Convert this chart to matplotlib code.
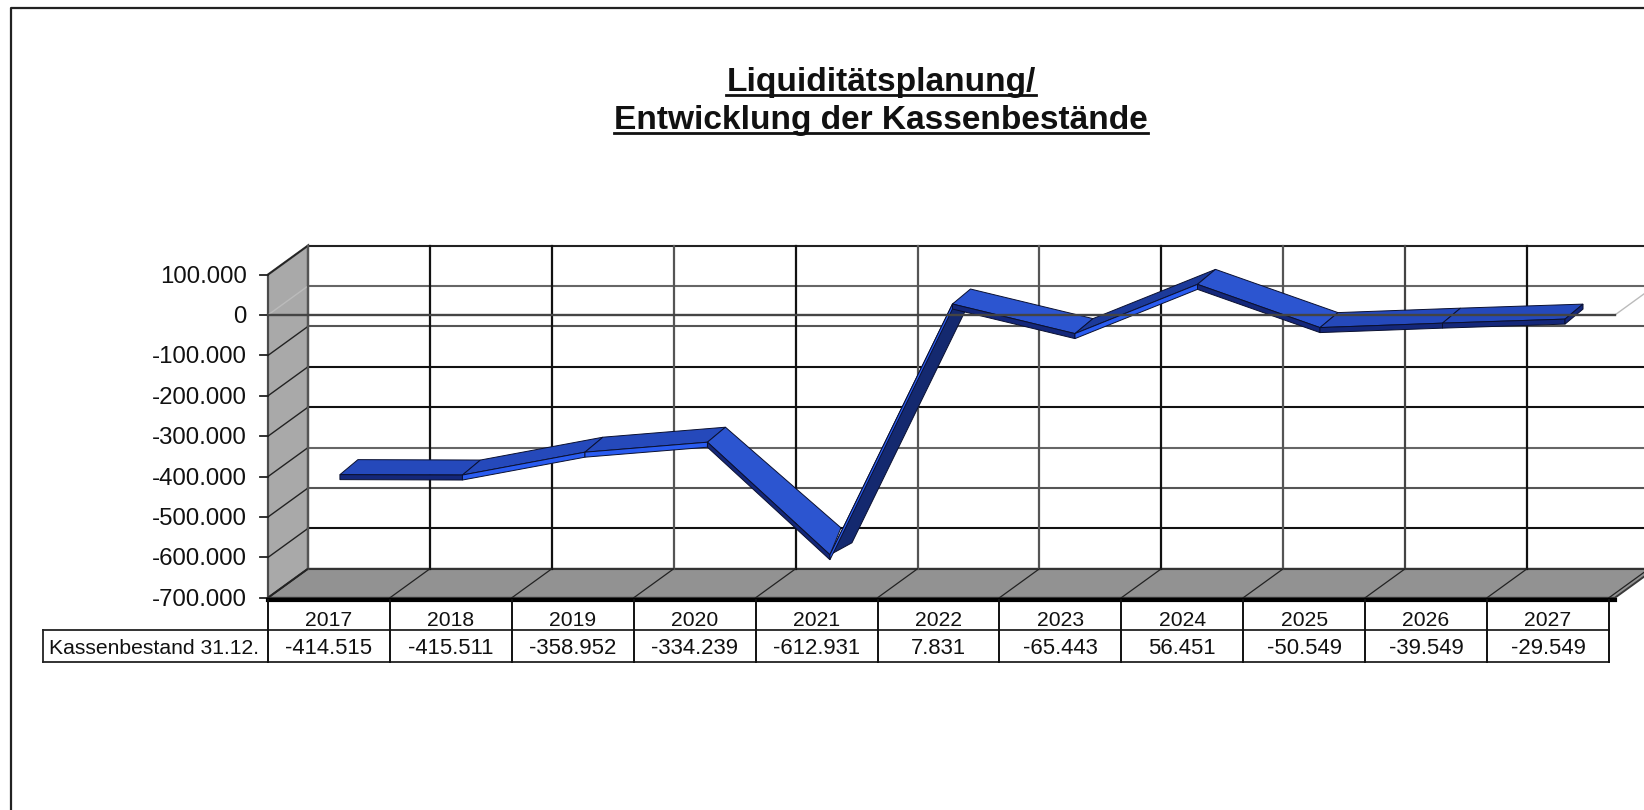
import matplotlib
matplotlib.use('Agg')
from matplotlib import pyplot as plt
from matplotlib.patches import Polygon
import numpy as np

plt.rcParams['font.family'] = ['Liberation Sans', 'DejaVu Sans']

years = [2017, 2018, 2019, 2020, 2021, 2022, 2023, 2024, 2025, 2026, 2027]
kassenbestand = [-414515, -415511, -358952, -334239, -612931, 7831, -65443, 56451, -50549, -39549, -29549]
yticks = [100000, 0, -100000, -200000, -300000, -400000, -500000, -600000, -700000]
title_lines = ['Liquiditätsplanung/', 'Entwicklung der Kassenbestände']
row_label = 'Kassenbestand 31.12.'

W, H = 1644, 810
cat_px = 121.9      # pixels per category
val_px = 40.4 / 100000  # pixels per unit of value
left_px = 268       # front left corner of the plot
zero_px = 315       # front zero line

depth_x = 40 / cat_px    # wall depth, in data units
depth_y = 29 / val_px
rib_dx = 18 / cat_px     # ribbon width
rib_dy = 15 / val_px
rib_thick = 5 / val_px

grid_cols = ['#222222', '#666666', '#555555', '#111111', '#111111', '#666666', '#555555', '#111111', '#333333']
vert_cols = ['#555555', '#111111', '#111111', '#555555', '#111111', '#555555', '#555555', '#111111', '#555555', '#444444', '#111111']


def fmt(v):
    return f'{v:,}'.replace(',', '.')


fig = plt.figure(figsize=(W / 100, H / 100), dpi=100)

# page axes in pixels, for frame and title
pg = fig.add_axes([0, 0, 1, 1], zorder=3)
pg.set_xlim(0, W)
pg.set_ylim(H, 0)
pg.axis('off')
pg.patch.set_alpha(0)

# chart axes: x = category number, y = value, fills the whole figure
ax = fig.add_axes([0, 0, 1, 1], zorder=1)
ax.set_xlim((0 - left_px) / cat_px - 0.5, (W - left_px) / cat_px - 0.5)
ax.set_ylim((zero_px - H) / val_px, zero_px / val_px)
ax.axis('off')

n = len(years)
x_l = -0.5
x_r = n - 0.5
x_fl = x_r + 6 / cat_px  # floor runs a little past the table
v_top = yticks[0]
v_bot = yticks[-1]

# walls
ax.add_patch(Polygon([(x_l, v_bot), (x_l, v_top), (x_l + depth_x, v_top + depth_y), (x_l + depth_x, v_bot + depth_y)],
                     fc='#a9a9a9', ec='#4a4a4a', lw=1.6, zorder=1))
ax.add_patch(Polygon([(x_l, v_bot), (x_fl, v_bot), (x_fl + depth_x, v_bot + depth_y), (x_l + depth_x, v_bot + depth_y)],
                     fc='#929292', ec='#3a3a3a', lw=1.4, zorder=1))

# back wall grid
for v, c in zip(yticks, grid_cols):
    ax.plot([x_l + depth_x, x_r + depth_x * 2], [v + depth_y, v + depth_y], color=c, lw=1.5, zorder=2)
    wall_col = '#bbbbbb' if v == 0 else '#222222'
    ax.plot([x_l, x_l + depth_x], [v, v + depth_y], color=wall_col, lw=1.0, zorder=2)
    ax.plot([x_l - 8 / cat_px, x_l], [v, v], color='#222222', lw=1.3, zorder=2)
    ax.text(x_l - 21 / cat_px, v - 2 / val_px, fmt(v), ha='right', va='center', fontsize=17.3, color='#111111')

for i, c in zip(range(n), vert_cols):
    ax.plot([i - 0.5 + depth_x] * 2, [v_bot + depth_y, v_top + depth_y], color=c, lw=1.6, zorder=2)
for i in range(n + 1):
    ax.plot([i - 0.5, i - 0.5 + depth_x], [v_bot, v_bot + depth_y], color='#222222', lw=0.9, zorder=2)

# ribbon
rx = np.arange(n) * 1.005 + 0.09
ry = np.array(kassenbestand) + 0.27 * depth_y
for i in range(n - 1):
    x1, x2 = rx[i], rx[i + 1]
    y1, y2 = ry[i], ry[i + 1]
    rise = (y2 - y1) * val_px
    if rise > 100:
        top_col = '#14296f'
    elif rise > 30:
        top_col = '#1c3a9a'
    elif rise < -20:
        top_col = '#2c55d0'
    else:
        top_col = '#2549bb'
    front_col = '#2a5cf0' if rise > 5 else '#14277a'
    # corners of the far edge, excel bends them on the steep parts
    sx1, sy1 = rib_dx, rib_dy
    sx2, sy2 = rib_dx, rib_dy
    if rise > 100:
        sx1 = sx2 = 22 / cat_px
        sy1 = sy2 = 12 / val_px
    if rise < -100:
        sx2 = 11 / cat_px
        sy2 = 27 / val_px
    ax.add_patch(Polygon([(x1, y1), (x2, y2), (x2 + sx2, y2 + sy2), (x1 + sx1, y1 + sy1)],
                         fc=top_col, ec='#0a1030', lw=0.7, zorder=4))
    ax.add_patch(Polygon([(x1, y1), (x2, y2), (x2, y2 - rib_thick), (x1, y1 - rib_thick)],
                         fc=front_col, ec='#0a1030', lw=0.7, zorder=5))
# end cap of the last year
ax.add_patch(Polygon([(rx[-1], ry[-1]), (rx[-1] + rib_dx, ry[-1] + rib_dy),
                      (rx[-1] + rib_dx, ry[-1] + rib_dy - rib_thick), (rx[-1], ry[-1] - rib_thick)],
                     fc='#14277a', ec='#0a1030', lw=0.7, zorder=5))

# zero line lies over the ribbon
ax.plot([x_l, x_fl], [0, 0], color='#444444', lw=1.7, zorder=6)
ax.plot([x_fl, x_fl + depth_x], [0, depth_y], color='#bbbbbb', lw=1.0, zorder=2)

# data table below the plot
row1 = v_bot - 32 / val_px
row2 = v_bot - 64 / val_px
ax.plot([x_l, x_fl], [v_bot - 2 / val_px] * 2, color='black', lw=3, zorder=7)
ax.plot([x_l - 225 / cat_px, x_r], [row1, row1], color='#222222', lw=1.3, zorder=7)
ax.plot([x_l - 225 / cat_px, x_r], [row2, row2], color='#222222', lw=1.3, zorder=7)
ax.plot([x_l - 225 / cat_px] * 2, [row1, row2], color='#222222', lw=1.3, zorder=7)
for i in range(n + 1):
    ax.plot([i - 0.5] * 2, [v_bot - 2 / val_px, row2], color='#111111', lw=1.4, zorder=7)
for i in range(n):
    ax.text(i, row1 + 0 / val_px, str(years[i]), ha='center', va='bottom', fontsize=15.2, color='#111111')
    ax.text(i, (row1 + row2) / 2 - 3 / val_px, fmt(kassenbestand[i]), ha='center', va='center', fontsize=15.9, color='#111111')
ax.text(x_l - 219 / cat_px, (row1 + row2) / 2 - 3 / val_px, row_label, ha='left', va='center', fontsize=15.2, color='#111111')

# outer frame, runs off the right and bottom edge
pg.plot([W + 5, 11, 11], [8, 8, H + 5], color='#222222', lw=1.6)

# title, underlined by hand
tts = []
for line, yy in zip(title_lines, [82, 120]):
    tts.append(pg.text(881, yy, line, ha='center', va='center', fontsize=24.1, fontweight='bold', color='#111111'))
fig.canvas.draw()
inv = pg.transData.inverted()
for t in tts:
    bb = t.get_window_extent()
    (x0, y0), (x1, y1) = inv.transform([(bb.x0, bb.y0), (bb.x1, bb.y1)])
    pg.plot([x0, x1], [y0 - 3, y0 - 3], color='#111111', lw=2)

fig.savefig('out.png', dpi=100)
